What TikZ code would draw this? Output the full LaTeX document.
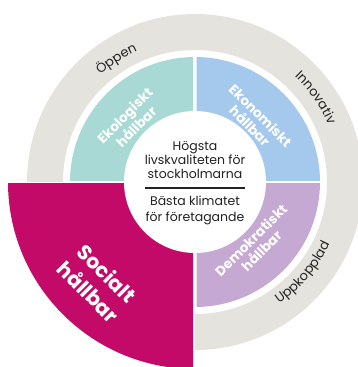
\documentclass[tikz,border=0pt]{standalone}
\usepackage{fontspec}
\setmainfont{Poppins}
\usetikzlibrary{decorations.text}
\definecolor{ringgray}{HTML}{E5E3DE}
\definecolor{ekoteal}{HTML}{A9D9D4}
\definecolor{ekonblue}{HTML}{A4C9EC}
\definecolor{demopurple}{HTML}{C5A9D3}
\definecolor{socpink}{HTML}{C40A68}
\definecolor{textdark}{HTML}{222222}
\begin{document}
\begin{tikzpicture}[x=1pt,y=1pt,
  seglabel/.style={text=white, font=\bfseries\fontsize{13.5}{15}\selectfont, align=center, inner sep=0pt},
  biglabel/.style={seglabel, font=\bfseries\fontsize{20.5}{26}\selectfont},
  centertext/.style={text=textdark, font=\fontsize{12.5}{14}\selectfont, anchor=base, inner sep=0pt},
  ringtext/.style={decorate, decoration={text along path, text align=center, text color=textdark}}]
\useasboundingbox (-195,-185) rectangle (163,182);
% outer ring
\fill[ringgray, even odd rule] (0,0) circle (168) (0,0) circle (132);
% quadrants
\begin{scope}\clip (-200,1.75) rectangle (-1.75,200); \fill[ekoteal] (0,0) circle (125);\end{scope}
\begin{scope}\clip (1.75,1.75) rectangle (200,200); \fill[ekonblue] (0,0) circle (125);\end{scope}
\begin{scope}\clip (1.75,-1.75) rectangle (200,-200); \fill[demopurple] (0,0) circle (125);\end{scope}
\begin{scope}\clip (-200,-200) rectangle (0,0); \fill[white] (0,0) circle (188);\end{scope}
\begin{scope}\clip (-200,-200) rectangle (-1.75,-1.75); \fill[socpink] (0,0) circle (187);\end{scope}
% centre disc
\fill[white] (0,0) circle (71);
% centre text
\node[centertext] (c1) at (0,31.5) {Högsta};
\node[centertext] (c2) at (0,17.5) {livskvaliteten för};
\node[centertext] (c3) at (0,4) {stockholmarna};
\coordinate (l1) at (-50,-6);
\coordinate (l2) at (50,-6);
\draw[line width=1.2pt, textdark] (l1) -- (l2);
\node[centertext] (c4) at (0,-23.5) {Bästa klimatet};
\node[centertext] (c5) at (0,-39) {för företagande};
% quadrant labels
\node[seglabel, rotate=45] (eko) at (136.6:89) {Ekologiskt\\hållbar};
\node[seglabel, rotate=-45] (ekon) at (45.5:86) {Ekonomiskt\\hållbar};
\node[seglabel, rotate=45] (demo) at (-46:88) {Demokratiskt\\hållbar};
\node[biglabel, rotate=-45] (soc) at (-134:139.7) {Socialt\\hållbar};
% ring labels
{\fontsize{13}{15}\selectfont
\path[ringtext, decoration={text={Öppen}}] (162.6:143) arc[start angle=162.6, end angle=82.6, radius=143];
\path[ringtext, decoration={text={Innovativ}}] (74.9:145) arc[start angle=74.9, end angle=-5.1, radius=145];
\path[ringtext, decoration={text={Uppkopplad}}] (-80:148) arc[start angle=-80, end angle=0, radius=148];
}
\end{tikzpicture}
\end{document}
